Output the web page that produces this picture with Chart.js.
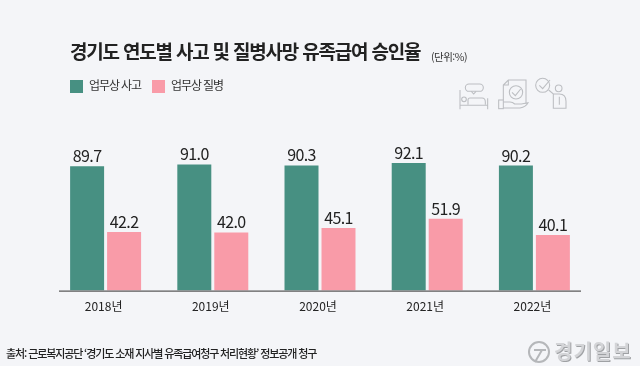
<!DOCTYPE html>
<html lang="ko">
<head>
<meta charset="utf-8">
<script src="https://cdn.jsdelivr.net/npm/chart.js@4/dist/chart.umd.min.js"></script>
<style>
  html, body { margin: 0; padding: 0; background: #f4f5f8; }
  body { width: 640px; height: 366px; position: relative; overflow: hidden; font-family: "Noto Sans CJK KR", sans-serif; color: #222; }
  #wrap { position: absolute; left: 0; top: 0; width: 640px; height: 366px; }
  .txt { position: absolute; white-space: nowrap; line-height: 1; }
  #title { left: 70px; top: 41px; font-size: 19px; font-weight: 700; letter-spacing: -1.2px; }
  #unit { left: 431px; top: 52px; font-size: 10.5px; letter-spacing: -0.5px; color: #333; }
  .box { position: absolute; top: 80px; width: 13px; height: 13px; }
  .leg { top: 79px; font-size: 12px; letter-spacing: -1.1px; color: #333; }
  #source { left: 6px; top: 348px; font-size: 11px; letter-spacing: -1.12px; font-weight: 500; color: #222; }
  #mark { left: 554px; top: 341px; font-size: 20px; font-weight: 700; letter-spacing: 1px; color: #d3d4d7; text-shadow: 1px 1px 0 #9fa1a4; }
  svg { position: absolute; fill: none; stroke: #bcbec2; }
</style>
</head>
<body>
<div id="wrap"><canvas id="chart" width="640" height="366"></canvas></div>
<div class="txt" id="title">경기도 연도별 사고 및 질병사망 유족급여 승인율</div>
<div class="txt" id="unit">(단위:%)</div>
<div class="box" style="left:70px;background:#479082"></div>
<div class="txt leg" style="left:89px">업무상 사고</div>
<div class="box" style="left:152px;background:#f99ba8"></div>
<div class="txt leg" style="left:171px">업무상 질병</div>
<svg style="left:440px;top:30px" width="200" height="100" viewBox="0 0 600 300" stroke-width="3.2">
  <path d="M60 180V238M143 205V238M60 226H143"/>
  <circle cx="72" cy="208" r="7"/>
  <path d="M84 224V210q0-6 6-6h36q10 0 10 12v8"/>
  <rect x="76" y="162" width="54" height="22" rx="11"/>
  <path d="M94 184l7 8 7-8"/>
  <path d="M190 210V165L205 150H258V222M190 165H205V150"/>
  <circle cx="228" cy="187" r="20"/>
  <path d="M216 187l10 10 16-20"/>
  <rect x="176" y="210" width="14" height="26"/>
  <path d="M190 216h20q8 0 14 6h20l20-4q-6 12-24 16h-50"/>
  <circle cx="308" cy="166" r="21"/>
  <path d="M298 166l10 10 22-26"/>
  <circle cx="356" cy="175" r="10"/>
  <path d="M326 180l14 12h18q20 0 20 22v22M340 192V235H378M358 200v24"/>
</svg>
<svg style="left:527px;top:340px;stroke:#b5b7ba;stroke-width:2" width="24" height="24" viewBox="0 0 24 24">
  <circle cx="12" cy="12" r="10"/>
  <path d="M7 10h12M15 10l-7 12"/>
</svg>
<div class="txt" id="mark">경기일보</div>
<div class="txt" id="source">출처: 근로복지공단 ‘경기도 소재 지사별 유족급여청구 처리현황’ 정보공개 청구</div>

<script>
const years = ["2018년", "2019년", "2020년", "2021년", "2022년"];
const accident = [89.7, 91.0, 90.3, 92.1, 90.2];
const disease = [42.2, 42.0, 45.1, 51.9, 40.1];
const seriesNames = ["업무상 사고", "업무상 질병"];

// value labels above the bars
const barLabels = {
  id: "barLabels",
  afterDatasetsDraw(chart) {
    const ctx = chart.ctx;
    ctx.save();
    ctx.font = '16px "Noto Sans CJK KR"';
    ctx.letterSpacing = "-0.6px";
    ctx.fillStyle = "#222";
    ctx.textAlign = "center";
    ctx.textBaseline = "alphabetic";
    chart.data.datasets.forEach((ds, i) => {
      chart.getDatasetMeta(i).data.forEach((bar, j) => {
        ctx.fillText(ds.data[j].toFixed(1), bar.x, bar.y - 4);
      });
    });
    ctx.restore();
  },
};

// baseline is a bit shorter than the plot area
const baseLine = {
  id: "baseLine",
  afterDatasetsDraw(chart) {
    const { ctx, chartArea } = chart;
    ctx.save();
    ctx.strokeStyle = "#333";
    ctx.lineWidth = 1;
    ctx.beginPath();
    ctx.moveTo(chartArea.left + 7, chartArea.bottom + 0.5);
    ctx.lineTo(chartArea.right - 7, chartArea.bottom + 0.5);
    ctx.stroke();
    ctx.restore();
  },
};

new Chart(document.getElementById("chart"), {
  type: "bar",
  data: {
    labels: years,
    datasets: [
      { label: seriesNames[0], data: accident, backgroundColor: "#479082" },
      { label: seriesNames[1], data: disease, backgroundColor: "#f99ba8" },
    ],
  },
  options: {
    responsive: false,
    animation: false,
    categoryPercentage: 0.69,
    barPercentage: 0.919,
    layout: { padding: { left: 52, right: 52, top: 152, bottom: 43 } },
    plugins: { legend: { display: false }, tooltip: { enabled: false } },
    scales: {
      x: {
        grid: { display: false, drawTicks: false },
        border: { display: false },
        ticks: { color: "#222", font: { family: "Noto Sans CJK KR", size: 12 }, padding: 9, labelOffset: -2, maxRotation: 0 },
      },
      y: { display: false, min: 0, max: 100 },
    },
  },
  plugins: [barLabels, baseLine],
});
</script>
</body>
</html>
